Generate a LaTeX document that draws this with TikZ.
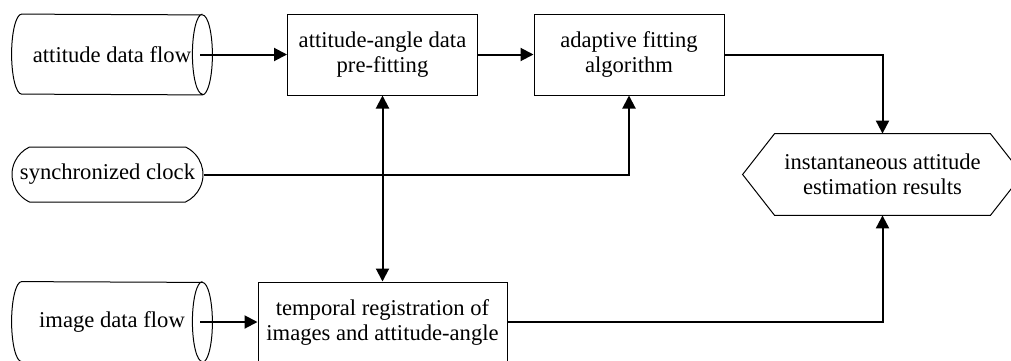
\documentclass[tikz,border=0pt]{standalone}
\usepackage{fontspec}
\setmainfont{Liberation Serif}
\usepackage{tikz}
\usetikzlibrary{shapes.misc}
\usetikzlibrary{arrows.meta}
\tikzstyle{flow} = [rectangle, minimum width=100pt, minimum height=40pt, inner sep=0pt]
\tikzstyle{process} = [rectangle, minimum height=40.5pt, text centered, align=center, draw=black, line width=0.5pt]
\tikzstyle{clock} = [rounded rectangle, rounded rectangle arc length=130, minimum width=95.5pt, minimum height=27.5pt, inner sep=0pt, draw=black, line width=0.5pt]
\tikzstyle{result} = [rectangle, minimum width=107.5pt, minimum height=40.5pt, inner sep=0pt, align=center]
\tikzstyle{arrow} = [line width=1pt,-{Triangle[length=6.5pt,width=6.5pt]}]

\begin{document}
\begin{tikzpicture}[x=0.5pt, y=-0.5pt, font=\fontsize{11.3}{12.5}\selectfont]
    \useasboundingbox (0,0) rectangle (1011,360);

    % sources
    \node[flow] (attflow) at (112,54.5) {attitude data flow};
    \node[clock] (sync) at (107.5,174.5) {synchronized clock};
    \node[flow] (imgflow) at (112,322) {image data flow};
    \foreach \n in {attflow, imgflow}
        \draw[line width=0.5pt] ([xshift=5pt]\n.north west) arc[start angle=90, end angle=270, x radius=5pt, y radius=20pt]
            -- ([xshift=-5pt]\n.south east) arc[start angle=-90, end angle=90, x radius=5pt, y radius=20pt] -- cycle
            ([xshift=-5pt]\n.north east) arc[start angle=90, end angle=270, x radius=5pt, y radius=20pt];

    % processing
    \node[process, minimum width=95pt] (prefit) at (382.5,54.5) {attitude-angle data\\pre-fitting};
    \node[process, minimum width=95pt] (adapt) at (629,54.5) {adaptive fitting\\algorithm};
    \node[process, minimum width=124.5pt, minimum height=40pt] (reg) at (382.5,322) {temporal registration of\\images and attitude-angle};

    % output
    \node[result] (res) at (882.5,174.5) {instantaneous attitude\\estimation results};
    \draw[line width=0.5pt] (res.north west) -- (res.north east) -- ([xshift=16pt]res.east) -- (res.south east)
        -- (res.south west) -- ([xshift=-16pt]res.west) -- cycle;

    \draw[arrow] ([xshift=-6pt]attflow.east) -- (prefit.west);
    \draw[arrow] (prefit.east) -- (adapt.west);
    \draw[arrow] (adapt.east) -| (res.north);
    \draw[arrow] (sync.east) -| (adapt.south);
    \draw[line width=1pt,{Triangle[length=6.5pt,width=6.5pt]}-{Triangle[length=6.5pt,width=6.5pt]}] (prefit.south) -- (reg.north);
    \draw[arrow] ([xshift=-6pt]imgflow.east) -- (reg.west);
    \draw[arrow] (reg.east) -| (res.south);
\end{tikzpicture}
\end{document}
